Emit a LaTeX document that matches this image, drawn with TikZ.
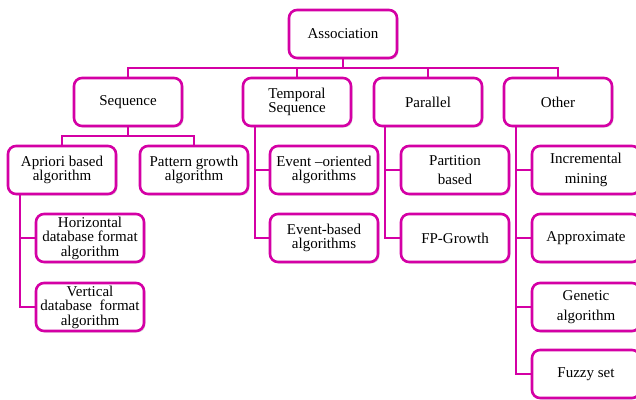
\documentclass[tikz,border=0pt]{standalone}
\usepackage{fontspec}
\setmainfont{Liberation Serif}
\usetikzlibrary{shadows}
\definecolor{assocpink}{RGB}{212,0,165}
\tikzset{ box_style/.style = { rectangle % category box
, rounded corners = 8pt
, draw = assocpink
, line width = 2.6pt
, fill = white
, minimum width = 108pt
, minimum height = 48pt
, inner sep = 1pt
, align = center
, font = \fontsize{15}{14.5}\selectfont
, drop shadow = {opacity=0.25, shadow xshift=1.5pt, shadow yshift=-1.5pt}
}
, line_style/.style = { draw = assocpink % connector
, line width = 2.6pt
}
}

\begin{document}
\begin{tikzpicture}[x=1pt, y=-1pt]
        \useasboundingbox (0,0) rectangle (636,399);

            \node [box_style](assoc) at (343,34) {Association};
            \node [box_style](seq) at (128,102) {Sequence};
            \node [box_style](temp) at (297,102) {Temporal\\Sequence};
            \node [box_style](par) at (428,102) {Parallel};
            \node [box_style](other) at (558,102) {Other};
            \node [box_style](apriori) at (62,170) {Apriori based\\algorithm};
            \node [box_style](pattern) at (194,170) {Pattern growth\\algorithm};
            \node [box_style](horiz) at (90,238) {Horizontal\\database format\\algorithm};
            \node [box_style](vert) at (90,307) {Vertical\\database\ \ format\\algorithm};
            \node [box_style](evo) at (324,170) {Event --oriented\\algorithms};
            \node [box_style](evb) at (324,238) {Event-based\\algorithms};
            \node [box_style](part) at (455,170) {Partition\\[5pt]based};
            \node [box_style](fpg) at (455,238) {FP-Growth};
            \node [box_style](incr) at (586,170) {Incremental\\[5pt]mining};
            \node [box_style](approx) at (586,238) {Approximate};
            \node [box_style](gen) at (586,307) {Genetic\\[5pt]algorithm};
            \node [box_style](fuzzy) at (586,374) {Fuzzy set};

            % top level
            \coordinate (bus) at (343,68);
            \draw [line_style] (assoc) -- (bus);
            \draw [line_style] (seq.north) |- (bus);
            \draw [line_style] (temp.north) |- (bus);
            \draw [line_style] (par.north) |- (bus);
            \draw [line_style] (other.north) |- (bus);
            % sequence
            \coordinate (seq_bus) at (128,136);
            \draw [line_style] (seq) -- (seq_bus);
            \draw [line_style] (apriori.north) |- (seq_bus);
            \draw [line_style] (pattern.north) |- (seq_bus);
            \coordinate (apr_top) at (20,194);
            \draw [line_style] (apr_top) |- (horiz.west);
            \draw [line_style] (apr_top) |- (vert.west);
            % temporal, parallel, other
            \coordinate (temp_top) at (255,126);
            \draw [line_style] (temp_top) |- (evo.west);
            \draw [line_style] (temp_top) |- (evb.west);
            \coordinate (par_top) at (385,126);
            \draw [line_style] (par_top) |- (part.west);
            \draw [line_style] (par_top) |- (fpg.west);
            \coordinate (other_top) at (516,126);
            \draw [line_style] (other_top) |- (incr.west);
            \draw [line_style] (other_top) |- (approx.west);
            \draw [line_style] (other_top) |- (gen.west);
            \draw [line_style] (other_top) |- (fuzzy.west);

        \end{tikzpicture}
\end{document}
